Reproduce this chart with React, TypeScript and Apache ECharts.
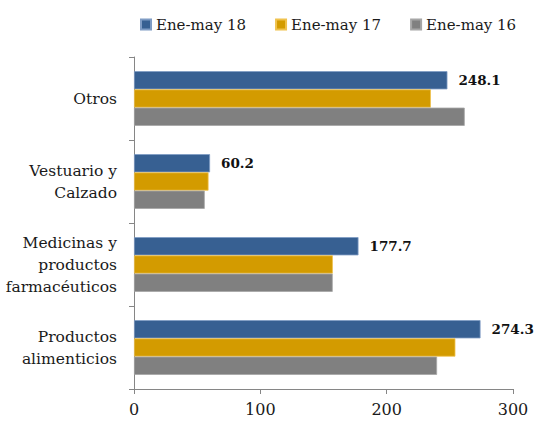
import React, { useEffect, useRef } from "react";
import * as echarts from "echarts";

const categories = ["Otros", "Vestuario y\nCalzado", "Medicinas y\nproductos\nfarmacéuticos", "Productos\nalimenticios"];
const seriesNames = ["Ene-may 18", "Ene-may 17", "Ene-may 16"];
const values18 = [248.1, 60.2, 177.7, 274.3];
const values17 = [235.0, 59.0, 157.4, 254.4];
const values16 = [261.8, 56.0, 157.3, 239.9];
const xTicks = [0, 100, 200, 300];
const colors = ["#376092", "#D39B00", "#808080"];
const borders = ["#7f9cc4", "#f0c24d", "#a6a6a6"];

const FONT = "DejaVu Serif";

export default function App() {
  const ref = useRef<HTMLDivElement>(null);
  useEffect(() => {
    if (!ref.current) return;
    const chart = echarts.init(ref.current, null, { renderer: "svg" });
    const data = [values18, values17, values16];
    chart.setOption({
      animation: false,
      textStyle: { fontFamily: FONT },
      legend: {
        data: seriesNames,
        left: 135,
        width: 400,
        top: 12,
        itemWidth: 10,
        itemHeight: 10,
        itemGap: 29,
        icon: "rect",
        textStyle: { fontFamily: FONT, fontSize: 15, color: "#1a1a1a" },
      },
      grid: { left: 134, right: 23, top: 57, bottom: 32, containLabel: false },
      xAxis: {
        type: "value",
        min: xTicks[0],
        max: xTicks[xTicks.length - 1],
        interval: 100,
        splitLine: { show: false },
        axisLine: { show: true, lineStyle: { color: "#868686", width: 1 } },
        axisTick: { show: true, length: 5, lineStyle: { color: "#868686" } },
        axisLabel: { fontFamily: FONT, fontSize: 16, color: "#1a1a1a", margin: 12 },
      },
      yAxis: {
        type: "category",
        data: categories,
        inverse: true,
        axisLine: { show: true, lineStyle: { color: "#868686", width: 1 } },
        axisTick: { show: true, length: 5, lineStyle: { color: "#868686" } },
        axisLabel: { fontFamily: FONT, fontSize: 15.5, color: "#1a1a1a", margin: 17, lineHeight: 22, align: "right" },
      },
      series: seriesNames.map((name, i) => ({
        name,
        type: "bar",
        data: data[i],
        barGap: "0%",
        barCategoryGap: "34%",
        itemStyle: { color: colors[i], borderColor: borders[i], borderWidth: 0.8 },
        label:
          i === 0
            ? {
                show: true,
                position: "right",
                distance: 11,
                fontFamily: FONT,
                fontSize: 13.5,
                fontWeight: "bold",
                color: "#111",
                formatter: (p: any) => p.value.toFixed(1),
              }
            : { show: false },
      })),
    });
    return () => chart.dispose();
  }, []);
  return <div ref={ref} style={{ width: 536, height: 421, position: "absolute", left: 0, top: 0 }} />;
}
